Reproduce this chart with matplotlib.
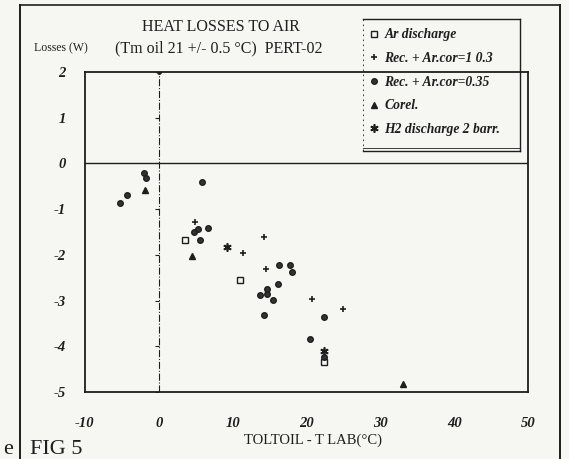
import matplotlib.pyplot as plt
from matplotlib.lines import Line2D

# values
ar_x = [3.5, 11.0, 22.4]
ar_y = [-1.68, -2.54, -4.34]
rec03_x = [4.9, 11.4, 14.2, 14.5, 20.7, 25.0]
rec03_y = [-1.29, -1.97, -1.60, -2.32, -2.96, -3.18]
rec035_x = [-5.3, -4.3, -1.95, -1.8, 5.9, 4.8, 5.3, 6.7, 5.6, 16.3, 17.8,
            18.1, 16.2, 13.7, 14.6, 14.6, 15.5, 14.3, 22.4, 20.5, 22.4]
rec035_y = [-0.87, -0.69, -0.22, -0.31, -0.40, -1.50, -1.44, -1.42, -1.67, -2.23, -2.23,
            -2.37, -2.64, -2.87, -2.74, -2.85, -2.98, -3.31, -3.35, -3.84, -4.23]
corel_x = [-1.9, 4.5, 33.1]
corel_y = [-0.58, -2.02, -4.83]
h2_x = [9.2, 22.4]
h2_y = [-1.82, -4.11]

labels = ['Ar discharge', 'Rec. + Ar.cor=1 0.3', 'Rec. + Ar.cor=0.35',
          'Corel.', 'H2 discharge 2 barr.']
xticks = [-10, 0, 10, 20, 30, 40, 50]
yticks = [-5, -4, -3, -2, -1, 0, 1, 2]

plt.rcParams['axes.unicode_minus'] = False

ink = '#1e1e1e'
paper = '#f6f6f3'
serif = 'Liberation Serif'

W, H = 569, 459
fig = plt.figure(figsize=(W / 100, H / 100), dpi=100, facecolor=paper)


def fx(px):
    return px / W


def fy(py):
    return 1 - py / H


ax = fig.add_axes([fx(85), fy(392), fx(528) - fx(85), fy(72) - fy(392)])
ax.set_facecolor(paper)
ax.set_xlim(-10, 50)
ax.set_ylim(-5, 2)
for s in ax.spines.values():
    s.set_linewidth(1.3)
    s.set_color(ink)

ax.axhline(0, color=ink, lw=1.0)
ax.plot([0, 0], [-5, 2], color=ink, lw=0.8, ls='-.')
ax.plot([0] * len(yticks), yticks, ls='none', marker=0, ms=3, color=ink, mew=0.8)
ax.plot([0], [2], 'o', ms=2.5, color=ink)

ax.plot(ar_x, ar_y, 's', ms=4.5, mfc='none', mec=ink, mew=1.0, label=labels[0])
ax.plot(rec03_x, rec03_y, '+', ms=5, mec=ink, mew=1.2, label=labels[1])
ax.plot(rec035_x, rec035_y, 'o', ms=4, mfc='#333333', mec=ink, label=labels[2])
ax.plot(corel_x, corel_y, '^', ms=4.5, color=ink, label=labels[3])
ax.plot(h2_x, h2_y, ls='none', marker=(6, 2, 0), ms=6, mec=ink, mew=1.2, label=labels[4])

ax.set_xticks(xticks)
ax.set_yticks(yticks)
ax.tick_params(length=0, labelsize=10.5, labelcolor=ink)
ax.tick_params(axis='x', pad=18)
ax.tick_params(axis='y', pad=14)
for t in ax.get_xticklabels() + ax.get_yticklabels():
    t.set_family(serif)
    t.set_style('italic')
    t.set_weight('bold')

# titles and axis texts
fig.text(fx(221), fy(27), 'HEAT LOSSES TO AIR', family=serif, fontsize=11.5,
         ha='center', va='center', color=ink)
fig.text(fx(219), fy(48), '(Tm oil 21 +/- 0.5 \u00b0C)  PERT-02', family=serif,
         fontsize=11.5, ha='center', va='center', color=ink)
fig.text(fx(61), fy(48), 'Losses (W)', family=serif, fontsize=8.5,
         ha='center', va='center', color=ink)
fig.text(fx(313), fy(440), 'TOLTOIL - T LAB(\u00b0C)', family=serif, fontsize=10.5,
         ha='center', va='center', color=ink)
fig.text(fx(30), fy(449), 'FIG 5', family=serif, fontsize=16,
         ha='left', va='center', color=ink)
fig.text(fx(3), fy(449), 'e', family=serif, fontsize=16,
         ha='left', va='center', color=ink)

# legend box (drawn by hand, it sticks out above the axes)
lx0, lx1, ly0, ly1 = fx(363), fx(520), fy(19), fy(151)
fig.add_artist(Line2D([lx0, lx1], [ly0, ly0], color=ink, lw=1.0))
fig.add_artist(Line2D([lx1, lx1], [ly0, ly1], color=ink, lw=1.0))
fig.add_artist(Line2D([lx0, lx0], [ly0, ly1], color=ink, lw=0.6, ls=(0, (2, 4))))
fig.add_artist(Line2D([lx0, lx1], [ly1, ly1], color=ink, lw=1.0))
fig.add_artist(Line2D([lx0, lx1], [fy(148), fy(148)], color=ink, lw=0.6))

handles, hl = ax.get_legend_handles_labels()
leg = fig.legend(handles, hl, loc='upper left', bbox_to_anchor=(fx(364), fy(23)),
                 frameon=False, handlelength=0.6, handletextpad=0.5,
                 labelspacing=0.78, borderaxespad=0,
                 prop={'family': serif, 'style': 'italic', 'weight': 'bold', 'size': 9.8})
for t in leg.get_texts():
    t.set_color(ink)

# outer frame of the scanned page
fig.add_artist(Line2D([fx(20), fx(20)], [fy(5), 0], color=ink, lw=1.4))
fig.add_artist(Line2D([fx(20), fx(560)], [fy(5), fy(5)], color=ink, lw=1.2))
fig.add_artist(Line2D([fx(560), fx(560)], [fy(5), 0], color=ink, lw=1.4))

fig.savefig('out.png', dpi=100, facecolor=paper)
